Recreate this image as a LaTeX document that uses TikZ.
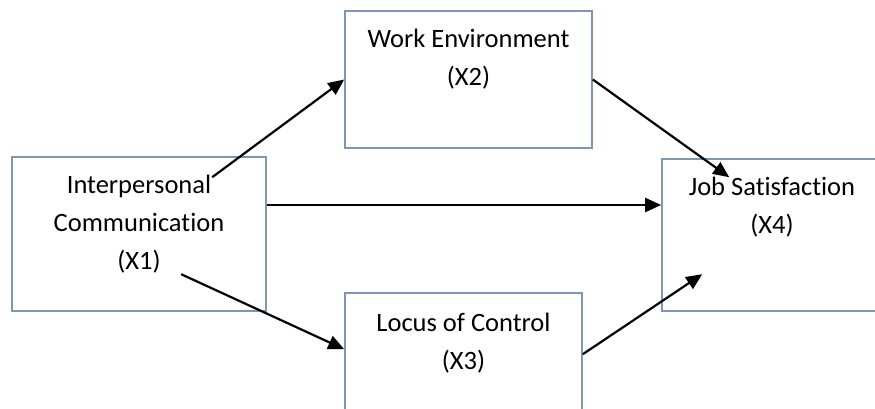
\documentclass[tikz,border=0pt]{standalone}
\usepackage{fontspec}
\setmainfont[Ligatures=NoCommon]{Carlito}
\usetikzlibrary{arrows.meta,calc}
\definecolor{boxline}{HTML}{7F95B5}

\begin{document}
\begin{tikzpicture}[font=\fontsize{26.5}{38}\selectfont,line width=1.6pt,x=1pt,y=-1pt,
  varbox/.style={draw=boxline,rectangle,inner sep=0pt},
  vartext/.style={anchor=north,align=center,inner sep=0pt},
  link/.style={black,line width=2.2pt,-{Triangle[length=16pt,width=14pt]}}]
\useasboundingbox (0,0) rectangle (875,408);
% the four variables
\node[varbox,minimum width=254pt,minimum height=154pt] (comm) at (139,234) {};
\node[varbox,minimum width=247pt,minimum height=137pt] (work) at (468.5,79.5) {};
\node[varbox,minimum width=237pt,minimum height=137pt] (ctrl) at (463.5,361.5) {};
\node[varbox,minimum width=220pt,minimum height=152pt] (sat) at (772,235) {};
\node[vartext] (comm-t) at ([yshift=-18pt]comm.north) {Interpersonal\\Communication\\(X1)};
\node[vartext] (work-t) at ([yshift=-18pt]work.north) {Work Environment\\(X2)};
\node[vartext] (ctrl-t) at ([yshift=-20pt]ctrl.north) {Locus of Control\\(X3)};
\node[vartext] (sat-t) at ([yshift=-18pt]sat.north) {Job Satisfaction\\(X4)};
% ends of the paths
\coordinate (a1) at ($(comm.north west)+(201,21)$);
\coordinate (a4) at ($(comm.north west)+(170,118)$);
\coordinate (b3) at ($(sat.north west)+(68,19)$);
\coordinate (b5) at ($(sat.north west)+(41,116)$);
\coordinate (c4) at ($(ctrl.north west)+(0,57)$);
\coordinate (c5) at ($(ctrl.north east)+(0,62)$);
\draw[link] (a1) -- (work.west);
\draw[link] ([yshift=29pt]comm.east) -- ([yshift=29pt]comm.east -| sat.west);
\draw[link] (work.east) -- (b3);
\draw[link] (a4) -- (c4);
\draw[link] (c5) -- (b5);
\end{tikzpicture}
\end{document}
